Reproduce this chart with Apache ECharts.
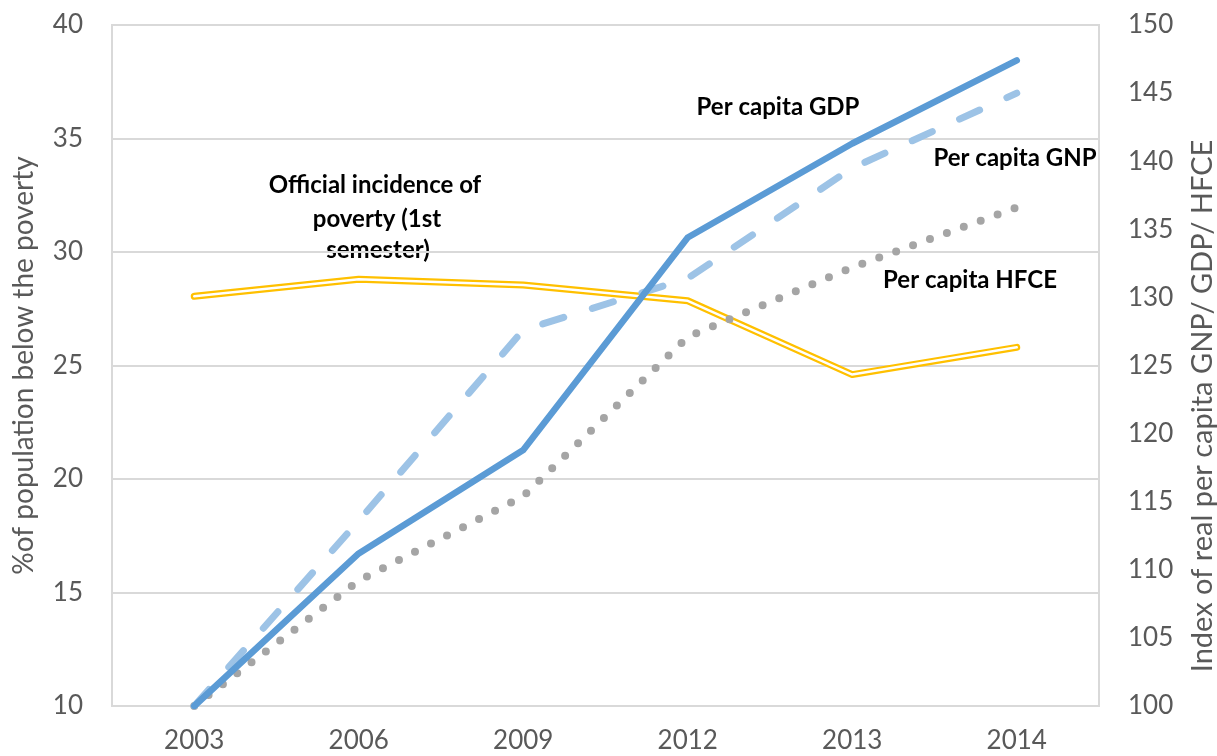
<!DOCTYPE html>
<html><head><meta charset="utf-8">
<script src="https://cdn.jsdelivr.net/npm/echarts@6/dist/echarts.min.js"></script>
<style>html,body{margin:0;padding:0;background:#fff}#c{width:1217px;height:756px}</style>
</head><body><div id="c"></div>
<script>
const years = ['2003','2006','2009','2012','2013','2014'];
const poverty = [28.05, 28.8, 28.55, 27.85, 24.6, 25.8];
const gdp = [100, 111.2, 118.8, 134.4, 141.3, 147.4];
const gnp = [100, 113.6, 127.6, 131.4, 139.5, 145.0];
const hfce = [100, 109.2, 115.4, 127.1, 132.2, 136.6];
const leftTicks = {min: 10, max: 40, interval: 5};
const rightTicks = {min: 100, max: 150, interval: 5};
const leftName = '%of population below the poverty';
const rightName = 'Index of real per capita GNP/ GDP/ HFCE';

const FONT = 'Lato, "Open Sans", sans-serif';
const chart = echarts.init(document.getElementById('c'));
const txt = (x, y, s) => ({type:'text', x: x, y: y, style:{text:s, font:'bold 24px ' + FONT, fill:'#000', textAlign:'center', textVerticalAlign:'middle'}});
chart.setOption({
  animation: false,
  grid: {left: 112, right: 118, top: 25, bottom: 50, show: true, borderColor: '#d9d9d9', borderWidth: 2},
  xAxis: {type:'category', data: years, boundaryGap: true,
    axisLine:{lineStyle:{color:'#d9d9d9', width:2}}, axisTick:{show:false},
    axisLabel:{color:'#595959', fontSize:26, fontFamily:FONT, margin:22}},
  yAxis: [
    {type:'value', min:leftTicks.min, max:leftTicks.max, interval:leftTicks.interval, position:'left',
     name:leftName, nameLocation:'middle', nameGap:74,
     nameTextStyle:{color:'#595959', fontSize:28, fontFamily:FONT},
     axisLine:{show:false}, axisTick:{show:false},
     axisLabel:{color:'#595959', fontSize:26, fontFamily:FONT, margin:29},
     splitLine:{lineStyle:{color:'#d9d9d9', width:2}}},
    {type:'value', min:rightTicks.min, max:rightTicks.max, interval:rightTicks.interval, position:'right',
     axisLine:{show:false}, axisTick:{show:false},
     axisLabel:{color:'#595959', fontSize:26, fontFamily:FONT, margin:29},
     splitLine:{show:false}}
  ],
  series: [
    {type:'line', yAxisIndex:0, data:poverty, symbol:'none', lineStyle:{color:'#FFC000', width:7, cap:'round', join:'round'}, z:2},
    {type:'line', yAxisIndex:0, data:poverty, symbol:'none', lineStyle:{color:'#ffffff', width:2.5, cap:'round', join:'round'}, z:3},
    {type:'line', yAxisIndex:1, data:hfce, symbol:'none', lineStyle:{color:'#A5A5A5', width:8, type:[0,18], cap:'round', join:'round'}, z:4},
    {type:'line', yAxisIndex:1, data:gnp, symbol:'none', lineStyle:{color:'#9DC3E6', width:7, type:[22,30], cap:'round', join:'round'}, z:5},
    {type:'line', yAxisIndex:1, data:gdp, symbol:'none', lineStyle:{color:'#5B9BD5', width:6.5, cap:'round', join:'round'}, z:6}
  ],
  graphic: [
    {type:'text', x:1203, y:406, rotation:Math.PI/2,
     style:{text:rightName, font:'29px ' + FONT, fill:'#595959', textAlign:'center', textVerticalAlign:'middle'}},
    txt(375, 185, 'Official incidence of'),
    txt(377, 219, 'poverty (1st'),
    txt(378, 250, 'semester)'),
    txt(778, 107, 'Per capita GDP'),
    txt(1015, 158, 'Per capita GNP'),
    txt(970, 280, 'Per capita HFCE')
  ]
});
</script></body></html>
